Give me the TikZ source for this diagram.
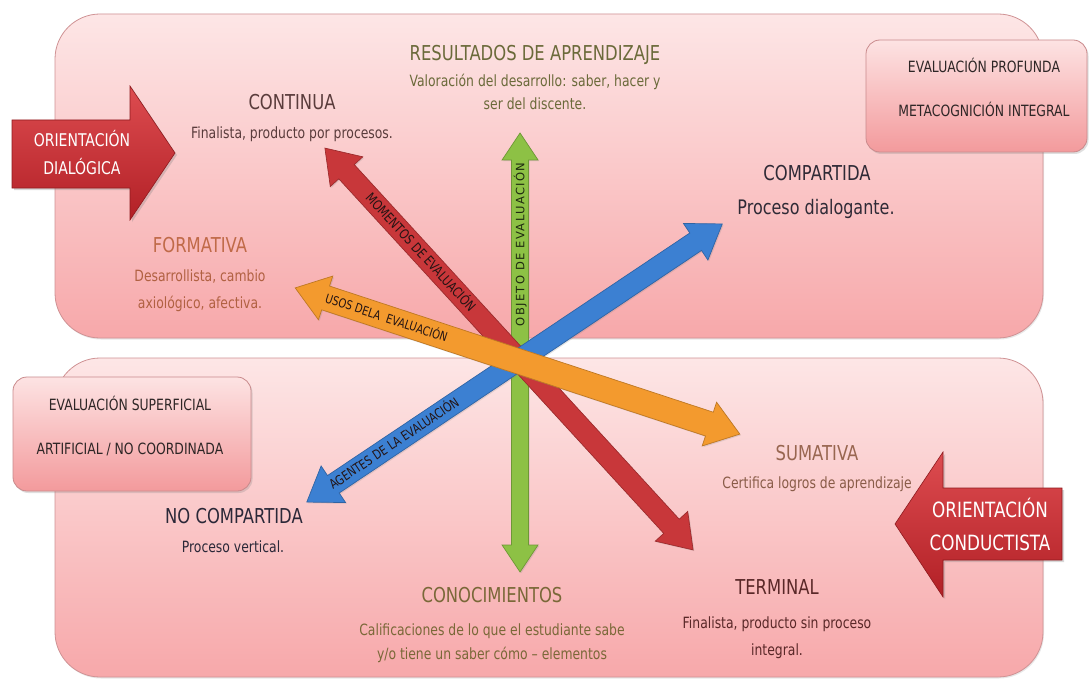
\documentclass[tikz,border=0pt]{standalone}
\usepackage{fontspec}
\setmainfont{DejaVu Sans}[FakeStretch=0.8]
\newfontfamily\objfont{DejaVu Sans}[LetterSpace=12]
\usetikzlibrary{shadows}
\definecolor{pnlTop}{HTML}{FDE6E6}
\definecolor{pnlBot}{HTML}{F7A8AA}
\definecolor{pnlLine}{HTML}{CF9294}
\definecolor{boxTop}{HTML}{FDE3E3}
\definecolor{boxBot}{HTML}{F39A9C}
\definecolor{boxLine}{HTML}{C98A8C}
\definecolor{arRed}{HTML}{C8373A}
\definecolor{arOrange}{HTML}{F39A2E}
\definecolor{arBlue}{HTML}{3C80D2}
\definecolor{arGreen}{HTML}{8DC145}
\definecolor{orTop}{HTML}{DD4C50}
\definecolor{orBot}{HTML}{B22026}
\definecolor{contC}{HTML}{5A3C3C}
\definecolor{formC}{HTML}{C06A48}
\definecolor{resC}{HTML}{6B6A3A}
\definecolor{compC}{HTML}{2F2A36}
\definecolor{boxT}{HTML}{2E2626}
\definecolor{nocC}{HTML}{2B2838}
\definecolor{conC}{HTML}{7A6838}
\definecolor{sumC}{HTML}{986650}
\definecolor{termC}{HTML}{5A2828}
\definecolor{lblC}{HTML}{241414}
\definecolor{objC}{HTML}{1E2A10}
% #1 cx, #2 cy, #3 angle, #4 half length, #5 shaft half width, #6 head half width, #7 head length, #8 colour, #9 name
\newcommand{\dblarrow}[9]{%
  \begin{scope}[shift={(#1,#2)},rotate=#3]
    \path[fill=#8, draw=#8!78!black, line width=0.7pt,
      drop shadow={opacity=0.22, shadow xshift=1.2pt, shadow yshift=-1.2pt}]
      (-#4,0) -- (-#4+#7,#6) -- (-#4+#7,#5) -- (#4-#7,#5) -- (#4-#7,#6) -- (#4,0)
      -- (#4-#7,-#6) -- (#4-#7,-#5) -- (-#4+#7,-#5) -- (-#4+#7,-#6) -- cycle;
    \coordinate (#9) at (0,0);
  \end{scope}}
\begin{document}
\begin{tikzpicture}[x=1pt,y=-1pt,
  panel/.style={draw=pnlLine, line width=0.8pt, rounded corners=45pt,
    top color=pnlTop, bottom color=pnlBot,
    drop shadow={opacity=0.18, shadow xshift=1pt, shadow yshift=-1.5pt}},
  sidebox/.style={draw=boxLine, line width=0.8pt, rounded corners=14pt,
    top color=boxTop, bottom color=boxBot,
    drop shadow={opacity=0.25, shadow xshift=1.5pt, shadow yshift=-2pt}},
  orient/.style={draw=orBot!80!black, line width=0.6pt, top color=orTop, bottom color=orBot,
    drop shadow={opacity=0.3, shadow xshift=2pt, shadow yshift=-2pt}},
  ttl/.style={font=\fontsize{20.5}{24}\selectfont, inner sep=0pt, text height=15pt, text depth=0pt},
  dsc/.style={font=\fontsize{15.5}{18}\selectfont, inner sep=0pt, text height=11.3pt, text depth=0pt},
  bxt/.style={font=\fontsize{15.5}{18}\selectfont, inner sep=0pt, text height=11.3pt, text depth=0pt, text=boxT},
  otx/.style={inner sep=0pt, text=white, text depth=0pt},
  alab/.style={inner sep=0pt, transform shape, text=lblC, text height=9pt, text depth=0pt},
]
\useasboundingbox (0,0) rectangle (1091,679);
\fill[white] (0,0) rectangle (1091,679);

% panels
\path[panel] (55,14) rectangle (1043,338);
\path[panel] (55,358) rectangle (1043,677);

% side boxes
\path[sidebox] (866,40) rectangle (1087,152);
\path[sidebox] (13,377) rectangle (251,491);

% crossing arrows
\dblarrow{520}{352.5}{90}{219.5}{8.5}{18}{27}{arGreen}{cGreen}
\begin{scope}[shift={(cGreen)},rotate=90]
  \node[alab, text=objC, font=\objfont\fontsize{11.5}{13}\selectfont, text height=8.5pt] (lobj) at (108,0) {OBJETO DE EVALUACIÓN};
\end{scope}
\dblarrow{509}{349}{-47.5}{272.5}{10.5}{22}{32}{arRed}{cRed}
\begin{scope}[shift={(cRed)},rotate=-47.5]
  \node[alab, font=\fontsize{13.5}{15}\selectfont] (lmom) at (-131,0) {MOMENTOS DE EVALUACIÓN};
\end{scope}
\dblarrow{514.5}{363}{33.8}{250}{10.5}{22}{32}{arBlue}{cBlue}
\begin{scope}[shift={(cBlue)},rotate=33.8]
  \node[alab, font=\fontsize{13}{15}\selectfont] (lage) at (-145,0) {AGENTES DE LA EVALUACIÓN};
\end{scope}
\dblarrow{517.5}{361}{-18.2}{234}{12.5}{23}{32}{arOrange}{cOrange}
\begin{scope}[shift={(cOrange)},rotate=-18.2]
  \node[alab, font=\fontsize{12.5}{15}\selectfont] (luso) at (-138,0) {USOS DELA\ \ EVALUACIÓN};
\end{scope}

% top texts
\node[ttl, text=contC] (cont) at (292,102) {CONTINUA};
\node[dsc, text=contC] (contd) at (292,133) {Finalista, producto por procesos.};
\node[ttl, text=formC] (form) at (200,245) {FORMATIVA};
\node[dsc, text=formC!92!black] (formd1) at (200,276) {Desarrollista, cambio};
\node[dsc, text=formC!92!black] (formd2) at (200,303) {axiológico, afectiva.};
\node[ttl, text=resC] (res) at (535,53) {RESULTADOS DE APRENDIZAJE};
\node[dsc, text=resC] (resd1) at (535,81) {Valoración del desarrollo: saber, hacer y};
\node[dsc, text=resC] (resd2) at (535,104) {ser del discente.};
\node[ttl, text=compC] (comp) at (817,173) {COMPARTIDA};
\node[ttl, text=compC, font=\fontsize{20}{24}\selectfont] (compd) at (816,207) {Proceso dialogante.};
\node[bxt] (prof) at (984,67) {EVALUACIÓN PROFUNDA};
\node[bxt] (meta) at (984,111) {METACOGNICIÓN INTEGRAL};

% bottom texts
\node[bxt] (sup) at (130,405) {EVALUACIÓN SUPERFICIAL};
\node[bxt] (art) at (130,449) {ARTIFICIAL / NO COORDINADA};
\node[ttl, text=nocC] (noc) at (234,516) {NO COMPARTIDA};
\node[dsc, text=nocC] (nocd) at (233,547) {Proceso vertical.};
\node[ttl, text=conC] (con) at (492,595) {CONOCIMIENTOS};
\node[dsc, text=conC] (cond1) at (492,630) {Calificaciones de lo que el estudiante sabe};
\node[dsc, text=conC] (cond2) at (492,654) {y/o tiene un saber cómo – elementos};
\node[ttl, text=sumC] (sum) at (817,453) {SUMATIVA};
\node[dsc, text=sumC!90!black] (sumd) at (817,483) {Certifica logros de aprendizaje};
\node[ttl, text=termC] (term) at (777,587) {TERMINAL};
\node[dsc, text=termC] (termd1) at (777,623) {Finalista, producto sin proceso};
\node[dsc, text=termC] (termd2) at (777,650) {integral.};

% orientation arrows
\path[orient] (12,120) -- (130,120) -- (130,86) -- (175,153) -- (130,220) -- (130,188) -- (12,188) -- cycle;
\node[otx, font=\fontsize{17.5}{20}\selectfont, text height=12.8pt] (odia1) at (82,140) {ORIENTACIÓN};
\node[otx, font=\fontsize{17.5}{20}\selectfont, text height=12.8pt] (odia2) at (82,168) {DIALÓGICA};
\path[orient] (1062,488) -- (943,488) -- (943,452) -- (895,524) -- (943,597) -- (943,560) -- (1062,560) -- cycle;
\node[otx, font=\fontsize{21}{24}\selectfont, text height=15.3pt] (ocon1) at (990,510) {ORIENTACIÓN};
\node[otx, font=\fontsize{21}{24}\selectfont, text height=15.3pt] (ocon2) at (990,543) {CONDUCTISTA};
\end{tikzpicture}
\end{document}
